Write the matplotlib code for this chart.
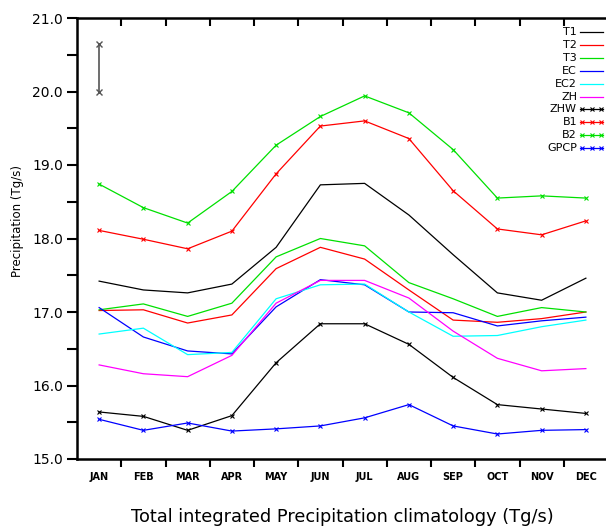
import numpy as np
import matplotlib.pyplot as plt
from matplotlib.lines import Line2D

months = ["JAN", "FEB", "MAR", "APR", "MAY", "JUN", "JUL", "AUG", "SEP", "OCT", "NOV", "DEC"]

T1 = [17.42, 17.30, 17.26, 17.38, 17.88, 18.73, 18.75, 18.32, 17.78, 17.26, 17.16, 17.46]
T2 = [17.02, 17.03, 16.85, 16.96, 17.59, 17.88, 17.72, 17.30, 16.89, 16.86, 16.91, 17.00]
T3 = [17.03, 17.11, 16.94, 17.12, 17.75, 18.00, 17.90, 17.40, 17.18, 16.94, 17.06, 17.00]
EC = [17.06, 16.66, 16.47, 16.43, 17.07, 17.44, 17.37, 17.00, 16.99, 16.81, 16.88, 16.93]
EC2 = [16.70, 16.78, 16.42, 16.45, 17.18, 17.37, 17.38, 17.00, 16.67, 16.68, 16.80, 16.89]
ZH = [16.28, 16.16, 16.12, 16.41, 17.12, 17.43, 17.43, 17.19, 16.74, 16.37, 16.20, 16.23]
ZHW = [15.64, 15.58, 15.39, 15.59, 16.31, 16.84, 16.84, 16.56, 16.11, 15.74, 15.68, 15.62]
B1 = [18.11, 17.99, 17.86, 18.10, 18.88, 19.53, 19.60, 19.36, 18.65, 18.13, 18.05, 18.24]
B2 = [18.74, 18.42, 18.21, 18.64, 19.27, 19.66, 19.94, 19.71, 19.21, 18.55, 18.58, 18.55]
GPCP = [15.54, 15.39, 15.49, 15.38, 15.41, 15.45, 15.56, 15.74, 15.45, 15.34, 15.39, 15.40]

# spread bar drawn at JAN
err_lo, err_hi = 20.0, 20.65

series = [
    ("T1", T1, "black", False),
    ("T2", T2, "red", False),
    ("T3", T3, "#00e000", False),
    ("EC", EC, "blue", False),
    ("EC2", EC2, "cyan", False),
    ("ZH", ZH, "magenta", False),
    ("ZHW", ZHW, "black", True),
    ("B1", B1, "red", True),
    ("B2", B2, "#00e000", True),
    ("GPCP", GPCP, "blue", True),
]

fig = plt.figure(figsize=(6.06, 5.29), dpi=100)
ax = fig.add_axes([77 / 606, 1 - 459 / 529, 531 / 606, 441 / 529])

x = np.arange(1, 13)
for name, vals, col, mk in series:
    if mk:
        ax.plot(x, vals, color=col, lw=0.9, marker="x", ms=2.5, mew=0.8)
    else:
        ax.plot(x, vals, color=col, lw=0.9)

ax.plot([1, 1], [err_lo, err_hi], color="#555555", lw=1.2,
        marker="x", ms=4, mew=1.0)

ax.set_xlim(0.5, 12.5)
ax.set_ylim(15.0, 21.0)

ax.set_xticks(x)
ax.set_xticklabels(months, fontsize=7, fontweight="bold")
ax.tick_params(axis="x", which="major", length=0, pad=9)
ax.set_xticks(np.arange(1.5, 12.5, 1.0), minor=True)
ax.tick_params(axis="x", which="minor", length=6, width=1.5, direction="out",
               top=True, bottom=True)
ax.set_yticks(np.arange(15, 21.5, 1.0))
ax.set_yticklabels([f"{v:.1f}" for v in np.arange(15, 21.5, 1.0)], fontsize=10)
ax.set_yticks(np.arange(15.5, 21, 1.0), minor=True)
ax.tick_params(axis="y", which="both", length=7, width=1.5, direction="out", pad=3)

for s in ["left", "bottom", "top"]:
    ax.spines[s].set_linewidth(1.8)
ax.spines["right"].set_visible(False)

# top ticks point inward
for t in ax.xaxis.get_minor_ticks():
    t.tick2line.set_marker(3)

fig.text(18 / 606, 1 - 221 / 529, "Precipitation (Tg/s)", rotation=90,
         ha="center", va="center", fontsize=8.5)
fig.text(342 / 606, 1 - 517 / 529, "Total integrated Precipitation climatology (Tg/s)",
         ha="center", va="center", fontsize=12.8)

# legend
y0 = 32
for i, (name, vals, col, mk) in enumerate(series):
    yy = 1 - (y0 + i * 12.9) / 529
    fig.text(577 / 606, yy, name, ha="right", va="center", fontsize=8)
    ln = Line2D([580 / 606, 603 / 606], [yy, yy], transform=fig.transFigure,
                color=col, lw=0.9)
    fig.add_artist(ln)
    if mk:
        mx = Line2D([582 / 606, 591.5 / 606, 601 / 606], [yy] * 3,
                    transform=fig.transFigure, color=col, lw=0,
                    marker="x", ms=2.5, mew=0.8)
        fig.add_artist(mx)

fig.savefig("out.png", dpi=100)
